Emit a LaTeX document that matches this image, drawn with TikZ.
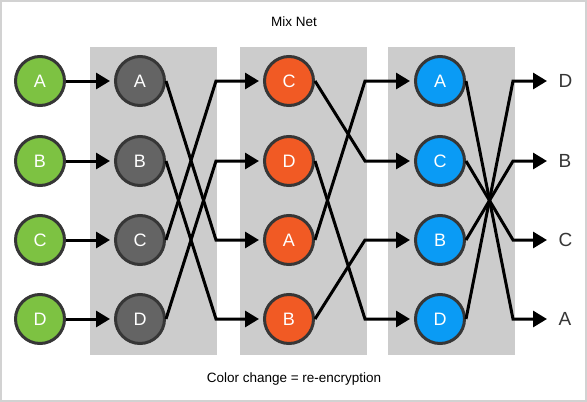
\documentclass[tikz,border=0pt]{standalone}
\usepackage{fontspec}
\setmainfont{Liberation Sans}
\usetikzlibrary{arrows.meta}

\definecolor{mixgreen}{HTML}{7DC242}
\definecolor{mixgray}{HTML}{646464}
\definecolor{mixorange}{HTML}{F15A24}
\definecolor{mixblue}{HTML}{0A9BF5}
\definecolor{rimgray}{HTML}{363636}
\definecolor{panelgray}{HTML}{CCCCCC}
\definecolor{framegray}{HTML}{D2D2D2}

\begin{document}
\begin{tikzpicture}[x = 1pt, y = -1pt, line width = 3pt,
                        ball/.style = {circle, draw = rimgray, minimum size = 49pt, inner sep = 0pt,
                                       text = white, font = \fontsize{18}{18}\selectfont},
                        input/.style = {ball, fill = mixgreen},
                        mixa/.style = {ball, fill = mixgray},
                        mixb/.style = {ball, fill = mixorange},
                        mixc/.style = {ball, fill = mixblue},
                        outlbl/.style = {anchor = west, inner sep = 0pt, text = rimgray,
                                         font = \fontsize{19}{19}\selectfont},
                        caption/.style = {font = \fontsize{13.5}{14}\selectfont},
                        arr/.style = {-{Triangle[length = 14pt, width = 16pt]}, shorten > = 4pt}]
      \useasboundingbox (0, 0) rectangle (587, 402);
      \draw [framegray, line width = 1.5pt] (1, 1) rectangle (586, 401);

      % panels
      \fill [panelgray] (90, 47) rectangle (217, 355);
      \fill [panelgray] (240, 47) rectangle (367, 355);
      \fill [panelgray] (388, 47) rectangle (515, 355);

      \node [caption] (title) at (294, 22){Mix Net};
      \node [caption] (note) at (294, 379){Color change = re-encryption};

      % bend columns
      \coordinate (k1) at (216, 0);
      \coordinate (k2) at (365, 0);
      \coordinate (k3) at (513, 0);

      \node [input] (a1) at (40, 81){A};
      \node [input] (a2) at (40, 161){B};
      \node [input] (a3) at (40, 240){C};
      \node [input] (a4) at (40, 319){D};

      \node [mixa] (b1) at (140, 81){A};
      \node [mixa] (b2) at (140, 161){B};
      \node [mixa] (b3) at (140, 240){C};
      \node [mixa] (b4) at (140, 319){D};

      \node [mixb] (c1) at (289, 81){C};
      \node [mixb] (c2) at (289, 161){D};
      \node [mixb] (c3) at (289, 240){A};
      \node [mixb] (c4) at (289, 319){B};

      \node [mixc] (d1) at (440, 81){A};
      \node [mixc] (d2) at (440, 161){C};
      \node [mixc] (d3) at (440, 240){B};
      \node [mixc] (d4) at (440, 319){D};

      \node [outlbl] (o1) at (557, 81){D};
      \node [outlbl] (o2) at (557, 161){B};
      \node [outlbl] (o3) at (557, 240){C};
      \node [outlbl] (o4) at (557, 319){A};

      \draw [arr] (a1) -- (b1);
      \draw [arr] (a2) -- (b2);
      \draw [arr] (a3) -- (b3);
      \draw [arr] (a4) -- (b4);

      \draw [arr] (b1.east) -- (k1 |- c3) -- (c3);
      \draw [arr] (b2.east) -- (k1 |- c4) -- (c4);
      \draw [arr] (b3.east) -- (k1 |- c1) -- (c1);
      \draw [arr] (b4.east) -- (k1 |- c2) -- (c2);

      \draw [arr] (c1.east) -- (k2 |- d2) -- (d2);
      \draw [arr] (c2.east) -- (k2 |- d4) -- (d4);
      \draw [arr] (c3.east) -- (k2 |- d1) -- (d1);
      \draw [arr] (c4.east) -- (k2 |- d3) -- (d3);

      \draw [arr, shorten > = 10pt] (d1.east) -- (k3 |- o4) -- (o4);
      \draw [arr, shorten > = 10pt] (d2.east) -- (k3 |- o3) -- (o3);
      \draw [arr, shorten > = 10pt] (d3.east) -- (k3 |- o2) -- (o2);
      \draw [arr, shorten > = 10pt] (d4.east) -- (k3 |- o1) -- (o1);

      \end{tikzpicture}
\end{document}
